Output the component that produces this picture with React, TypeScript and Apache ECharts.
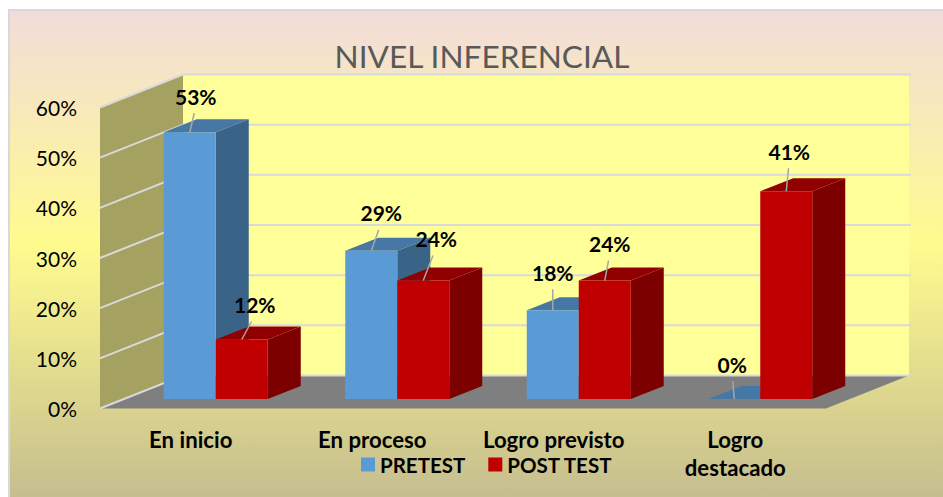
import React, { useEffect, useRef } from "react";
import * as echarts from "echarts";

const titleText = "NIVEL INFERENCIAL";
const categories = ["En inicio", "En proceso", "Logro previsto", "Logro\ndestacado"];
const seriesNames = ["PRETEST", "POST TEST"];
const pretestValues = [52.9, 29.4, 17.6, 0];
const postTestValues = [11.8, 23.5, 23.5, 41.2];
const axisTicks = [0, 10, 20, 30, 40, 50, 60];

// layout of the fake 3D (pixels)
const FONT = "Lato, Carlito, 'Open Sans', sans-serif";
const WALL_DX = 83;
const WALL_DY = -33;
const BAR_W = 52;
const BAR_DX = 33;
const BAR_DY = -13;
const BAR_SHIFT_X = 25;
const BAR_SHIFT_Y = -9.5;
const BAR_SCALE = 1.005;
// offset of each data label from the middle of its bar's front top edge
const pretestLabelOffsets = [[6, -36], [10, -38], [0, -38], [-2, -35]];
const postTestLabelOffsets = [[13, -35], [13, -42], [5, -37], [3, -40]];

const frameRender = (params: any, api: any) => {
  const cs = params.coordSys;
  const x0 = cs.x;
  const x1 = cs.x + cs.width;
  const yBottom = cs.y + cs.height;
  const yTop = cs.y;
  const children: any[] = [];
  const tick = api.value(1);
  const y = api.coord([0, tick])[1];
  if (params.dataIndex === 0) {
    children.push({
      type: "polygon",
      shape: { points: [[x0, yTop], [x0 + WALL_DX, yTop + WALL_DY], [x0 + WALL_DX, yBottom + WALL_DY], [x0, yBottom]] },
      style: { fill: "#A5A161" },
    });
    children.push({
      type: "rect",
      shape: { x: x0 + WALL_DX, y: yTop + WALL_DY, width: cs.width, height: cs.height },
      style: { fill: "#FFFF99" },
    });
    children.push({
      type: "polygon",
      shape: { points: [[x0, yBottom], [x0 + WALL_DX, yBottom + WALL_DY], [x1 + WALL_DX, yBottom + WALL_DY], [x1, yBottom]] },
      style: { fill: "#7F7F7F" },
    });
  }
  const lineStyle = { stroke: "#D9D9D9", lineWidth: 2 };
  children.push({
    type: "polyline",
    shape: { points: [[x0, y], [x0 + WALL_DX, y + WALL_DY], [x1 + WALL_DX + 2, y + WALL_DY]] },
    style: { ...lineStyle, fill: "none" },
  });
  return { type: "group", children };
};

const barRender = (side: number, front: string, top: string, dark: string, offsets: number[][]) => (params: any, api: any) => {
  const idx = api.value(0);
  const val = api.value(1);
  const c = api.coord([idx, val]);
  const base = api.coord([idx, 0]);
  const yb = base[1] + BAR_SHIFT_Y;
  const yt = yb - (base[1] - c[1]) * BAR_SCALE;
  const mid = base[0] + BAR_SHIFT_X;
  const xl = side === 0 ? mid - BAR_W : mid;
  const xr = xl + BAR_W;
  const children: any[] = [];
  children.push({
    type: "polygon",
    shape: { points: [[xr, yb], [xr + BAR_DX, yb + BAR_DY], [xr + BAR_DX, yt + BAR_DY], [xr, yt]] },
    style: { fill: dark },
  });
  children.push({
    type: "polygon",
    shape: { points: [[xl, yt], [xl + BAR_DX, yt + BAR_DY], [xr + BAR_DX, yt + BAR_DY], [xr, yt]] },
    style: { fill: top },
  });
  children.push({
    type: "rect",
    shape: { x: xl, y: yt, width: BAR_W, height: yb - yt },
    style: { fill: front },
  });
  const off = offsets[params.dataIndex];
  const cx = xl + BAR_W / 2;
  children.push({
    type: "line",
    shape: { x1: cx, y1: yt, x2: cx + off[0] * 0.75, y2: yt + off[1] + 17 },
    style: { stroke: "#A6A6A6", lineWidth: 1.5 },
  });
  children.push({
    type: "text",
    x: cx + off[0],
    y: yt + off[1],
    style: {
      text: `${Math.round(val)}%`,
      font: `bold 21px ${FONT}`,
      fill: "#000000",
      align: "center",
      verticalAlign: "middle",
    },
  });
  return { type: "group", children };
};

export default function App() {
  const ref = useRef<HTMLDivElement>(null);
  useEffect(() => {
    const chart = echarts.init(ref.current!, undefined, { renderer: "svg" });
    chart.setOption({
      animation: false,
      backgroundColor: "#FFFFFF",
      textStyle: { fontFamily: FONT },
      graphic: [
        {
          type: "rect",
          z: -10,
          silent: true,
          shape: { x: 9, y: 10, width: 960, height: 510 },
          style: {
            stroke: "#D9D9D9",
            lineWidth: 2,
            fill: new echarts.graphic.LinearGradient(0, 0, 0, 1, [
              { offset: 0, color: "#F2DCDB" },
              { offset: 0.46, color: "#FFFB8E" },
              { offset: 1, color: "#C0B88F" },
            ]),
          },
        },
      ],
      title: {
        text: titleText,
        left: 477,
        top: 35,
        textAlign: "center",
        textStyle: { fontFamily: FONT, fontSize: 31.6, fontWeight: "normal", color: "#595959" },
      },
      legend: {
        data: seriesNames,
        left: 356,
        top: 449,
        icon: "rect",
        itemWidth: 14,
        itemHeight: 14,
        itemGap: 23,
        textStyle: { fontFamily: FONT, fontSize: 20.5, fontWeight: "bold", color: "#000000" },
      },
      grid: { left: 100, top: 107.5, width: 726, height: 301 },
      xAxis: {
        type: "category",
        data: categories,
        axisLine: { show: false },
        axisTick: { show: false },
        axisLabel: {
          interval: 0,
          margin: 17,
          fontFamily: FONT,
          fontSize: 22.2,
          fontWeight: "bold",
          color: "#000000",
          lineHeight: 28,
        },
      },
      yAxis: {
        type: "value",
        min: 0,
        max: 60,
        interval: 10,
        splitLine: { show: false },
        axisLine: { show: false },
        axisTick: { show: false },
        axisLabel: {
          formatter: "{value}%",
          margin: 23,
          fontFamily: FONT,
          fontSize: 21,
          color: "#000000",
          padding: [5, 0, 0, 0],
        },
      },
      series: [
        {
          type: "custom",
          name: "frame",
          data: axisTicks.map((t) => [0, t]),
          encode: { x: 0, y: 1 },
          renderItem: frameRender,
          silent: true,
          z: 1,
        },
        {
          type: "custom",
          name: seriesNames[0],
          itemStyle: { color: "#5B9BD5" },
          data: pretestValues.map((v, i) => [i, v]),
          encode: { x: 0, y: 1 },
          renderItem: barRender(0, "#5B9BD5", "#4677A5", "#3A6388", pretestLabelOffsets),
          z: 2,
        },
        {
          type: "custom",
          name: seriesNames[1],
          itemStyle: { color: "#C00000" },
          data: postTestValues.map((v, i) => [i, v]),
          encode: { x: 0, y: 1 },
          renderItem: barRender(1, "#C00000", "#900000", "#7C0000", postTestLabelOffsets),
          z: 3,
        },
      ],
    });
    return () => chart.dispose();
  }, []);
  return <div ref={ref} style={{ position: "absolute", left: 0, top: 0, width: 943, height: 497 }} />;
}
